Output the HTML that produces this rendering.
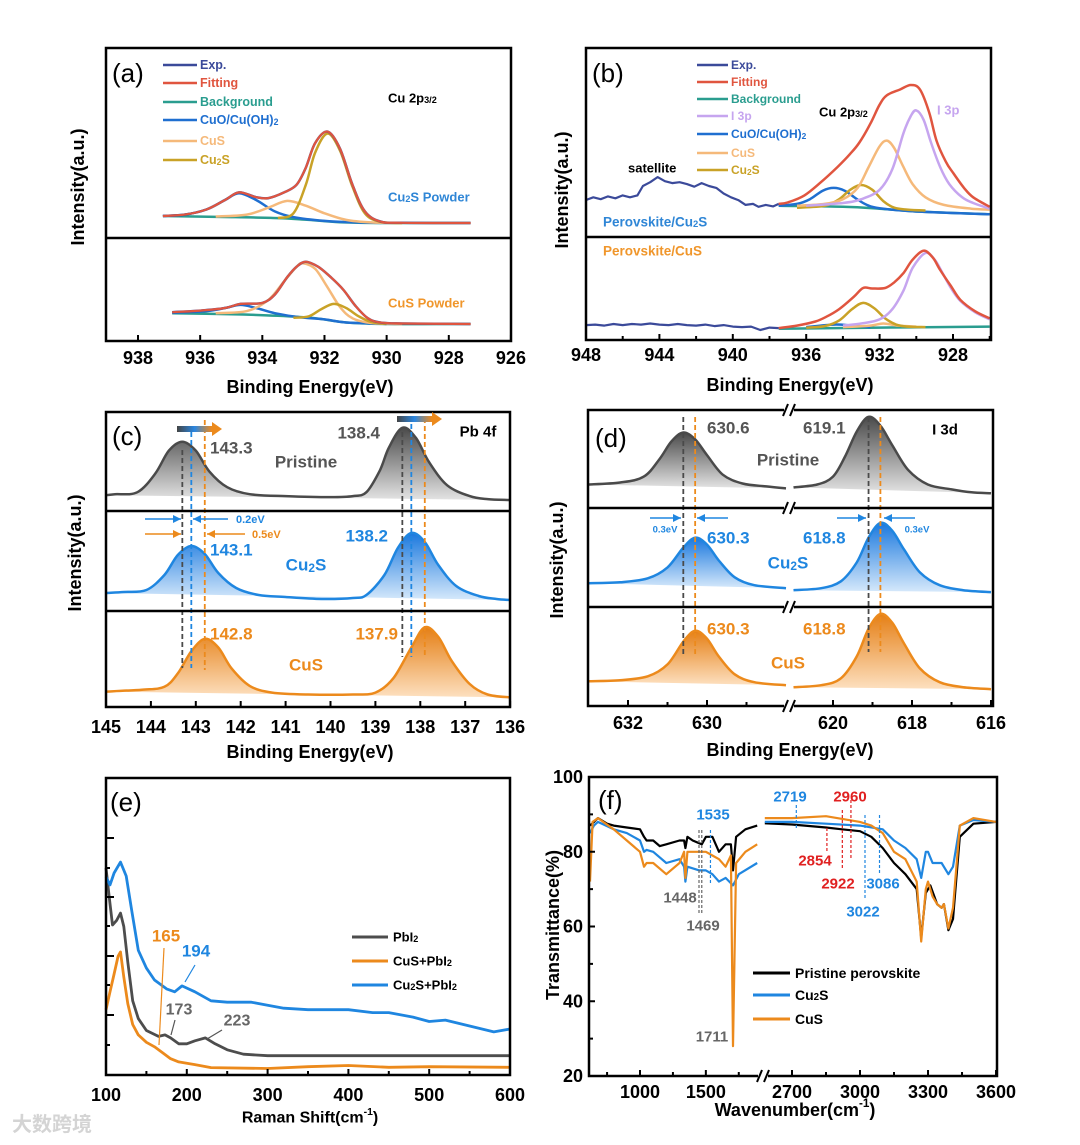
<!DOCTYPE html>
<html><head><meta charset="utf-8"><style>
html,body{margin:0;padding:0;background:#fff;}
svg{display:block;font-family:"Liberation Sans",Arial,sans-serif;font-weight:bold;}
</style></head><body>
<svg id="fig" xmlns="http://www.w3.org/2000/svg" width="1080" height="1145" viewBox="0 0 1080 1145">
<defs>
<linearGradient id="gGray" x1="0" y1="0" x2="0" y2="1"><stop offset="0" stop-color="#4a4a4a"/><stop offset="1" stop-color="#e4e4e4"/></linearGradient>
<linearGradient id="gBlue" x1="0" y1="0" x2="0" y2="1"><stop offset="0" stop-color="#1a78de"/><stop offset="1" stop-color="#d6e9fb"/></linearGradient>
<linearGradient id="gOrange" x1="0" y1="0" x2="0" y2="1"><stop offset="0" stop-color="#e57f15"/><stop offset="1" stop-color="#fde0c0"/></linearGradient>
<linearGradient id="gArrow" x1="0" y1="0" x2="1" y2="0"><stop offset="0" stop-color="#444"/><stop offset="0.5" stop-color="#2a86e0"/><stop offset="1" stop-color="#ef8a1c"/></linearGradient>
</defs>
</svg>
<script>
// ---------- Panel (a) data: [binding energy, intensity %] ----------
const aTopBg=[[937.2,11.6],[935,11],[933.5,10.5],[932.5,9.5],[931.5,8.3],[930,7.9],[927.3,7.9]];
const aTopCuO=[[937.2,11.6],[936.5,12.3],[935.8,15],[935.2,20],[934.75,23.5],[934.2,20],[933.6,14],[933,11],[932,9],[931,8.2],[929.5,7.9]];
const aTopCuS=[[935.5,11.3],[934.5,12.3],[933.8,16],[933.2,19.5],[932.6,17],[932,13],[931.3,9.5],[930.5,8.2],[929.5,7.9]];
const aTopCu2S=[[933.5,10.5],[933,13],[932.6,28],[932.3,45],[931.9,55],[931.5,46],[931.1,27],[930.7,13],[930.2,8.5],[929.5,7.9]];
const aTopFit=[[937.2,11.6],[936.5,12.3],[935.8,15],[935.2,20],[934.75,24],[934.2,21.5],[933.8,21],[933.3,24],[932.9,28],[932.6,37],[932.3,50],[931.9,56],[931.5,47],[931.1,28],[930.7,14],[930.2,8.7],[929.5,8],[927.3,7.9]];
const aBotBg=[[936.9,27],[935,26],[933.5,24.5],[932.3,22],[931.3,18],[930,16.5],[927.3,16.5]];
const aBotCuO=[[936.9,27.5],[935.8,29],[935.2,32],[934.7,35],[934.2,32],[933.6,27],[932.8,23],[932,21],[931.3,18],[930,16.5]];
const aBotCuS=[[935.5,27],[934.5,29],[933.8,40],[933.3,58],[932.9,72],[932.7,75.5],[932.3,70],[931.9,52],[931.5,33],[931.1,22],[930.5,17.5],[929.5,16.5]];
const aBotCu2S=[[933,22.5],[932.5,24],[932.1,31],[931.7,36],[931.3,32],[930.9,24],[930.5,18.5],[930,16.5]];
const aBotFit=[[936.9,28],[936,29.5],[935.2,32],[934.7,36],[934,37],[933.6,45],[933.2,62],[932.9,72],[932.6,77],[932.2,72],[931.8,62],[931.4,50],[931,34],[930.6,22],[930.2,18],[929.5,17],[927.3,16.5]];
const aTicks=[938,936,934,932,930,928,926];

// ---------- Panel (b) data ----------
const bTopExp=[[948,19.6],[947.6,21],[947.2,20],[946.8,21.5],[946.4,20.5],[946,22],[945.6,21],[945.2,22],[944.9,27],[944.5,29],[944.1,31.7],[943.7,29.5],[943.3,28.5],[942.9,29],[942.5,28],[942.1,26.6],[941.7,28.5],[941.3,27],[940.9,26],[940.5,23],[940.1,21],[939.7,19.5],[939.3,17],[938.9,17.5],[938.6,16],[938.2,17],[937.8,16.2],[937.5,17.5]];
const bTopFit=[[937.5,17.5],[937,18.3],[936.1,22],[935.2,29],[934.3,37],[933.6,44],[933.1,50],[932.5,60],[932,70],[931.6,75],[930.9,78],[930.3,80.4],[929.8,78],[929.3,66],[928.9,51],[928.4,40],[928,34],[927.4,26],[926.9,21],[926,16]];
const bTopI3p=[[936,16.5],[934,18],[933,20],[932,25],[931.3,36],[930.7,55],[930.3,64],[930,67],[929.6,62],[929.2,50],[928.7,37],[928.2,28],[927.5,21],[926.9,18],[926,15]];
const bTopCuS=[[936.5,16.5],[935,17.5],[934,20],[933.2,26],[932.6,37],[932,48],[931.6,51],[931.2,47],[930.7,37],[930.2,28],[929.5,21],[928.5,17],[927,15],[926,14.5]];
const bTopCu2S=[[936.5,15.5],[935,16.5],[934.2,20],[933.6,25],[933,27.5],[932.4,25],[931.8,19],[931.2,15.5],[930.5,14.5],[929.5,14]];
const bTopCuO=[[937.5,16.5],[936.5,17.5],[935.8,20],[935.1,24.5],[934.5,26],[933.9,24.5],[933.3,20.5],[932.7,17],[932,15.2],[930,13.5],[926,12]];
const bTopBg=[[937.5,16.5],[934,16],[932,15],[930,13.5],[926,12]];
const bBotExp=[[948,14.5],[947.5,15],[947,14],[946.5,15.5],[946,14.5],[945.5,15.5],[945,15],[944.5,16],[944,15],[943.5,14.5],[943,15.5],[942.5,14.5],[942,14],[941.5,15],[941,13.5],[940.5,14.5],[940,13],[939.5,12.5],[939,13],[938.5,9.7],[938,12],[937.5,11.6]];
const bBotFit=[[937.5,11.6],[936.5,14],[935.5,18],[934.9,22.6],[934.2,30],[933.4,42],[932.9,50.5],[932.4,50],[931.7,50.5],[931.2,56],[930.7,65],[930.2,78],[929.6,86.7],[929.1,80],[928.7,68],[928.1,52],[927.6,39],[926.8,28],[926,21]];
const bBotI3p=[[934,14],[933,16],[932,20],[931.3,30],[930.7,48],[930.2,70],[929.5,84.5],[929,78],[928.6,66],[928.1,50],[927.6,38],[926.8,27],[926,20]];
const bBotCu2S=[[936,12],[935,13.5],[934.2,19],[933.5,30],[932.9,36],[932.3,31],[931.7,21],[931.1,15],[930.5,13],[929.5,12.5]];
const bBotCuS=[[934,12.5],[932.5,14],[931.8,16],[931,14],[930,13]];
const bBotCuO=[[936,12.5],[934.5,15],[933.5,14],[932.5,12.5]];
const bBotBg=[[937.5,11],[932,12],[926,13]];
const bTicks=[948,944,940,936,932,928];

// ---------- Panel (c) data (Pb 4f) ----------
const cPristine=[[145,16],[144.8,17],[144.3,19],[143.9,38],[143.6,61],[143.3,70],[143.0,61],[142.7,40],[142.3,24],[141.8,17],[141,15],[140,14],[139.5,15],[139.2,19],[138.9,41],[138.7,64],[138.4,84],[138.1,74],[137.8,49],[137.4,26],[136.9,15],[136.5,12],[136,11]];
const cCu2S=[[145,18],[144.6,19],[144.1,21],[143.7,36],[143.4,56],[143.1,65],[142.8,57],[142.5,38],[142.1,23],[141.6,16],[141,14],[140.2,12],[139.5,13],[139.2,16],[138.8,36],[138.5,63],[138.2,78],[137.9,69],[137.6,46],[137.2,25],[136.7,15],[136.3,12],[136,11]];
const cCuS=[[145,16],[144.2,18],[143.7,21],[143.4,35],[143.1,58],[142.8,71],[142.5,62],[142.2,40],[141.8,22],[141.3,15],[140.5,13],[139.5,13],[139,15],[138.6,30],[138.2,62],[137.9,83],[137.6,73],[137.3,48],[136.9,24],[136.5,13],[136,10]];
const cTicks=[145,144,143,142,141,140,139,138,137,136];

// ---------- Panel (d) data (I 3d) ----------
const dPristineL=[[633,24],[632.2,26],[631.6,32],[631.2,50],[630.9,68],[630.6,77],[630.3,70],[630,54],[629.6,34],[629.1,25],[628.5,22],[628,20]];
const dPristineR=[[621,21],[620.4,24],[620,32],[619.7,52],[619.4,78],[619.1,93],[618.8,84],[618.5,64],[618.1,39],[617.6,24],[617,19],[616.5,16],[616,15]];
const dCu2SL=[[633,24],[632.2,25],[631.5,29],[631,40],[630.6,60],[630.3,70],[630,63],[629.7,47],[629.3,30],[628.8,22],[628,19]];
const dCu2SR=[[621,17],[620.3,19],[619.8,26],[619.4,45],[619.1,70],[618.8,85],[618.5,77],[618.2,58],[617.8,35],[617.3,22],[616.7,17],[616,15]];
const dCuSL=[[633,25],[632.2,26],[631.5,30],[631,42],[630.6,65],[630.3,76],[630,68],[629.7,50],[629.3,32],[628.8,24],[628,21]];
const dCuSR=[[621,19],[620.3,21],[619.8,28],[619.4,50],[619.1,78],[618.8,93],[618.5,84],[618.2,63],[617.8,38],[617.3,24],[616.7,19],[616,17]];
const dTicks=[632,630,620,618,616];

// ---------- Panel (e) data (Raman) ----------
const eCu2S=[[100,66.7],[105,64],[110,68],[118,71.7],[125,67],[132,55],[140,42],[150,36],[160,32],[175,29],[185,28],[194,30],[210,28],[230,25],[250,24.5],[280,24.5],[300,23.5],[320,22.5],[350,22],[400,22],[430,21],[450,21],[480,19.5],[500,18],[520,18.5],[550,16.5],[580,14.5],[600,15.5]];
const ePbI2=[[100,69.7],[104,60],[108,50.5],[113,52],[118,54.5],[122,50],[127,38],[133,25],[140,19],[150,15],[165,13],[173,13.5],[180,12.5],[190,10.5],[200,10.5],[210,11.5],[223,12.5],[235,10.5],[250,8.5],[270,7],[300,6.5],[400,6.5],[500,6.5],[600,6.5]];
const eCuS=[[100,22],[105,28],[110,34],[115,40],[118,41.4],[122,33],[127,24],[133,17],[140,13.5],[150,11],[160,9.5],[170,7.5],[180,5.5],[190,4.4],[210,3.5],[230,2.5],[300,2.2],[350,2.8],[400,3.2],[450,2.6],[500,2.8],[600,2.6]];
const eTicks=[100,200,300,400,500,600];

// ---------- Panel (f) data (FTIR) ----------
const fBlackL=[[620,87],[650,88],[680,89],[750,87.5],[800,87],[900,86.5],[1000,86],[1030,84],[1050,83],[1100,83],[1150,81.5],[1200,82],[1300,83],[1335,83],[1345,81],[1360,84],[1400,83],[1469,82],[1500,84],[1550,84],[1600,80],[1650,82],[1690,82],[1706,75],[1730,84],[1800,86],[1890,87]];
const fBlueL=[[620,85],[650,87],[680,88],[800,86],[900,85],[1000,83],[1030,80],[1050,80.5],[1100,80],[1200,77],[1300,78],[1335,76],[1345,72],[1360,76],[1450,75],[1500,75],[1550,74],[1600,72],[1650,73],[1706,71],[1750,74],[1890,77]];
const fOrangeL=[[620,72],[640,88],[680,89],[800,86],[900,83],[1000,80],[1030,76],[1050,77],[1100,77],[1200,74],[1300,77],[1335,80],[1345,73],[1360,80],[1450,80],[1500,80],[1550,79],[1600,78],[1650,76],[1690,79],[1706,28],[1730,77],[1800,80],[1890,82]];
const fBlackR=[[2580,87.6],[2700,87.3],[2850,86.5],[2920,86],[3000,85.5],[3050,84],[3100,81],[3150,77],[3200,74],[3250,70],[3270,57],[3290,69],[3310,71],[3340,66],[3360,65],[3370,66],[3390,59],[3410,62],[3440,84],[3500,87.5],[3600,88]];
const fBlueR=[[2580,88],[2700,88],[2850,87.5],[3000,87],[3100,86],[3150,83],[3200,81],[3250,78],[3270,73],[3290,80],[3300,80],[3320,77],[3360,77],[3390,74],[3410,76],[3440,87],[3500,88.5],[3600,88]];
const fOrangeR=[[2580,89],[2700,89],[2850,89.5],[3000,88],[3050,87],[3100,85],[3150,80],[3200,78],[3250,72],[3270,56],[3290,70],[3300,72],[3320,68],[3340,66],[3360,65],[3370,66],[3390,59.5],[3410,65],[3440,87],[3500,89],[3600,88]];
const fYTicks=[100,80,60,40,20];
const fXTicksL=[1000,1500];
const fXTicksR=[2700,3000,3300,3600];

// ---------- helpers ----------
const svg=document.getElementById('fig');
const NS='http://www.w3.org/2000/svg';
function mk(tag,name){const e=document.createElementNS(NS,tag);


svg.appendChild(e);return e;}
function line(x1,y1,x2,y2,col,w,name,dash){const e=mk('line',name);e.setAttribute('x1',x1);e.setAttribute('y1',y1);e.setAttribute('x2',x2);e.setAttribute('y2',y2);e.setAttribute('stroke',col);e.setAttribute('stroke-width',w);if(dash)e.setAttribute('stroke-dasharray',dash);return e;}
function rect(x,y,w,h,name,fill,stroke,sw){const e=mk('rect',name);e.setAttribute('x',x);e.setAttribute('y',y);e.setAttribute('width',w);e.setAttribute('height',h);e.setAttribute('fill',fill||'none');if(stroke){e.setAttribute('stroke',stroke);e.setAttribute('stroke-width',sw);}return e;}
function text(x,y,s,size,fill,anchor,name,rot){const e=mk('text',name);e.setAttribute('x',x);e.setAttribute('y',y);e.setAttribute('font-size',size);e.setAttribute('fill',fill||'#000');e.setAttribute('text-anchor',anchor||'start');e.setAttribute('dominant-baseline','central');if(rot)e.setAttribute('transform','rotate('+rot+' '+x+' '+y+')');e.innerHTML=s;return e;}
const SUB=(c)=>'<tspan baseline-shift="-25%" font-size="70%">'+c+'</tspan>';
const SUP=(c)=>'<tspan baseline-shift="super" font-size="65%">'+c+'</tspan>';
function smoothD(pts){let d='M'+pts[0][0].toFixed(1)+','+pts[0][1].toFixed(1);for(let i=0;i<pts.length-1;i++){const p0=pts[i-1]||pts[i],p1=pts[i],p2=pts[i+1],p3=pts[i+2]||p2;const c1=[p1[0]+(p2[0]-p0[0])/6,p1[1]+(p2[1]-p0[1])/6],c2=[p2[0]-(p3[0]-p1[0])/6,p2[1]-(p3[1]-p1[1])/6];d+='C'+c1[0].toFixed(1)+','+c1[1].toFixed(1)+' '+c2[0].toFixed(1)+','+c2[1].toFixed(1)+' '+p2[0].toFixed(1)+','+p2[1].toFixed(1);}return d;}
function linD(pts){return 'M'+pts.map(p=>p[0].toFixed(1)+','+p[1].toFixed(1)).join('L');}
function curve(data,xs,ys,col,w,name,smooth){const pts=data.map(d=>[xs(d[0]),ys(d[1])]);const e=mk('path',name);e.setAttribute('d',smooth===false?linD(pts):smoothD(pts));e.setAttribute('fill','none');e.setAttribute('stroke',col);e.setAttribute('stroke-width',w);e.setAttribute('stroke-linejoin','round');return e;}
function area(data,xs,ys,grad,name){const pts=data.map(d=>[xs(d[0]),ys(d[1])]);const e=mk('path',name);e.setAttribute('d',smoothD(pts)+'Z');e.setAttribute('fill','url(#'+grad+')');return e;}
function arrow(x1,y,x2,col,name){line(x1,y,x2,y,col,1.6,name);const dir=x2>x1?1:-1;const e=mk('path',name+'-head');e.setAttribute('d','M'+x2+','+y+'L'+(x2-dir*8)+','+(y-4)+'L'+(x2-dir*8)+','+(y+4)+'Z');e.setAttribute('fill',col);}
function breakMark(x,y,name){rect(x-5,y-5,10,10,name+'-gap','#fff');line(x-6,y+6,x-1,y-6,'#000',2,name+'-l');line(x+1,y+6,x+6,y-6,'#000',2,name+'-r');}

const C={exp:'#3b4a9a',fit:'#e0553f',bg:'#2a9d8f',cuo:'#1f6fd0',cus:'#f5b97a',cu2s:'#c9a227',i3p:'#c6a5ef',gray:'#4a4a4a',blue:'#1f86e0',orange:'#ec8a1c'};
const TS=18;

// ================= Panel (a) =================
const xA=e=>138+(938-e)*31.08, yAt=v=>238-v*1.90, yAb=v=>341-v*1.03;
curve(aTopBg,xA,yAt,C.bg,2.5,'a-top-background');
curve(aTopCuO,xA,yAt,C.cuo,2.5,'a-top-cuo');
curve(aTopCuS,xA,yAt,C.cus,2.5,'a-top-cus');
curve(aTopCu2S,xA,yAt,C.cu2s,2.5,'a-top-cu2s');
curve(aTopFit,xA,yAt,C.exp,2.5,'a-top-exp');
curve(aTopFit,xA,yAt,C.fit,2.2,'a-top-fitting');
curve(aBotBg,xA,yAb,C.bg,2.5,'a-bottom-background');
curve(aBotCuO,xA,yAb,C.cuo,2.5,'a-bottom-cuo');
curve(aBotCuS,xA,yAb,C.cus,2.5,'a-bottom-cus');
curve(aBotCu2S,xA,yAb,C.cu2s,2.5,'a-bottom-cu2s');
curve(aBotFit,xA,yAb,C.exp,2.5,'a-bottom-exp');
curve(aBotFit,xA,yAb,C.fit,2.2,'a-bottom-fitting');
rect(106,48,405,293,'a-frame','none','#000',2.5);
line(106,238,511,238,'#000',2.5,'a-divider');
aTicks.forEach(t=>{line(xA(t),341,xA(t),335,'#000',2,'a-tick');text(xA(t),358,String(t),TS,'#000','middle','a-tick-label');});
text(310,387,'Binding Energy(eV)',18,'#000','middle','a-x-title');
text(78,187,'Intensity(a.u.)',18,'#000','middle','a-y-title',-90);
text(112,73,'(a)',26,'#000','start','a-panel-label').setAttribute('font-weight','normal');
[['Exp.',C.exp],['Fitting',C.fit],['Background',C.bg],['CuO/Cu(OH)'+SUB('2'),C.cuo],['CuS',C.cus],['Cu'+SUB('2')+'S',C.cu2s]].forEach((l,i)=>{const y=[65,83,102,120,141,160][i];line(163,y,197,y,l[1],2.5,'a-legend-line');text(200,y,l[0],12.5,l[1],'start','a-legend-label');});
text(388,98,'Cu 2p'+SUB('3/2'),13,'#000','start','a-core-level-label');
text(388,197,'Cu'+SUB('2')+'S Powder',13,'#2f86d6','start','a-cu2s-powder-label');
text(388,303,'CuS Powder',13,'#f0962b','start','a-cus-powder-label');

// ================= Panel (b) =================
const xB=e=>586+(948-e)*18.35, yBt=v=>237-v*1.89, yBb=v=>340-v*1.03;
curve(bTopBg,xB,yBt,C.bg,2.5,'b-top-background');
curve(bTopCuO,xB,yBt,C.cuo,2.5,'b-top-cuo');
curve(bTopCu2S,xB,yBt,C.cu2s,2.5,'b-top-cu2s');
curve(bTopCuS,xB,yBt,C.cus,2.5,'b-top-cus');
curve(bTopI3p,xB,yBt,C.i3p,2.5,'b-top-i3p');
curve(bTopExp,xB,yBt,C.exp,2.2,'b-top-exp',false);
curve(bTopFit,xB,yBt,C.fit,2.5,'b-top-fitting');
curve(bBotBg,xB,yBb,C.bg,2.5,'b-bottom-background');
curve(bBotCuO,xB,yBb,C.cuo,2.5,'b-bottom-cuo');
curve(bBotCuS,xB,yBb,C.cus,2.5,'b-bottom-cus');
curve(bBotCu2S,xB,yBb,C.cu2s,2.5,'b-bottom-cu2s');
curve(bBotI3p,xB,yBb,C.i3p,2.5,'b-bottom-i3p');
curve(bBotExp,xB,yBb,C.exp,2.2,'b-bottom-exp',false);
curve(bBotFit,xB,yBb,C.fit,2.5,'b-bottom-fitting');
rect(586,48,405,292,'b-frame','none','#000',2.5);
line(586,237,991,237,'#000',2.5,'b-divider');
bTicks.forEach(t=>{line(xB(t),340,xB(t),334,'#000',2,'b-tick');line(xB(t-2),340,xB(t-2),336,'#000',2,'b-minor-tick');text(xB(t),355,String(t),TS,'#000','middle','b-tick-label');});
text(790,385,'Binding Energy(eV)',18,'#000','middle','b-x-title');
text(562,190,'Intensity(a.u.)',18,'#000','middle','b-y-title',-90);
text(592,73,'(b)',26,'#000','start','b-panel-label').setAttribute('font-weight','normal');
[['Exp.',C.exp],['Fitting',C.fit],['Background',C.bg],['I 3p',C.i3p],['CuO/Cu(OH)'+SUB('2'),C.cuo],['CuS',C.cus],['Cu'+SUB('2')+'S',C.cu2s]].forEach((l,i)=>{const y=[65,82,99,116,134,153,170][i];line(697,y,728,y,l[1],2.5,'b-legend-line');text(731,y,l[0],12,l[1],'start','b-legend-label');});
text(819,112,'Cu 2p'+SUB('3/2'),13,'#000','start','b-core-level-label');
text(937,110,'I 3p',13,C.i3p,'start','b-i3p-label');
text(628,168,'satellite',13,'#000','start','b-satellite-label');
text(603,222,'Perovskite/Cu'+SUB('2')+'S',13.5,'#2f86d6','start','b-cu2s-label');
text(603,251,'Perovskite/CuS',13.5,'#f0962b','start','b-cus-label');

// ================= Panel (c) =================
const xC=e=>106+(145-e)*44.9;
const ySub=(top,bot)=>v=>bot-v*(bot-top)/100;
const yC1=ySub(412,511),yC2=ySub(511,611),yC3=ySub(611,707);
area(cPristine,xC,yC1,'gGray','c-pristine-fill');curve(cPristine,xC,yC1,C.gray,2.5,'c-pristine-line');
area(cCu2S,xC,yC2,'gBlue','c-cu2s-fill');curve(cCu2S,xC,yC2,C.blue,2.5,'c-cu2s-line');
area(cCuS,xC,yC3,'gOrange','c-cus-fill');curve(cCuS,xC,yC3,C.orange,2.5,'c-cus-line');
line(xC(143.3),450,xC(143.3),668,C.gray,1.8,'c-dash-pristine-1','5,3');
line(xC(143.1),432,xC(143.1),668,C.blue,1.8,'c-dash-cu2s-1','5,3');
line(xC(142.8),420,xC(142.8),670,C.orange,1.8,'c-dash-cus-1','5,3');
line(xC(138.4),432,xC(138.4),657,C.gray,1.8,'c-dash-pristine-2','5,3');
line(xC(138.2),424,xC(138.2),657,C.blue,1.8,'c-dash-cu2s-2','5,3');
line(xC(137.9),418,xC(137.9),655,C.orange,1.8,'c-dash-cus-2','5,3');
rect(106,412,404,295,'c-frame','none','#000',2.5);
line(106,511,510,511,'#000',2.5,'c-divider-1');line(106,611,510,611,'#000',2.5,'c-divider-2');
cTicks.forEach(t=>{line(xC(t),707,xC(t),701,'#000',2,'c-tick');text(xC(t),727,String(t),TS,'#000','middle','c-tick-label');});
text(310,752,'Binding Energy(eV)',18,'#000','middle','c-x-title');
text(75,553,'Intensity(a.u.)',18,'#000','middle','c-y-title',-90);
text(112,436,'(c)',26,'#000','start','c-panel-label').setAttribute('font-weight','normal');
[[177,212,429],[397,432,419]].forEach((a,i)=>{rect(a[0],a[2]-3,a[1]-a[0],6,'c-shift-arrow-'+(i+1),'url(#gArrow)');const h=mk('path','c-shift-arrow-head');h.setAttribute('d','M'+(a[1]+10)+','+a[2]+'L'+a[1]+','+(a[2]-7)+'L'+a[1]+','+(a[2]+7)+'Z');h.setAttribute('fill',C.orange);});
text(210,448,'143.3',17,'#555','start','c-pristine-peak-1');
text(380,433,'138.4',17,'#555','end','c-pristine-peak-2');
text(306,462,'Pristine',17,'#555','middle','c-pristine-label');
text(478,432,'Pb 4f',15,'#000','middle','c-core-level-label');
arrow(145,519,181,C.blue,'c-arrow-blue-r');arrow(228,519,193,C.blue,'c-arrow-blue-l');
arrow(145,534,181,C.orange,'c-arrow-orange-r');arrow(245,534,207,C.orange,'c-arrow-orange-l');
text(236,520,'0.2eV',11,C.blue,'start','c-shift-02');
text(252,535,'0.5eV',11,C.orange,'start','c-shift-05');
text(210,550,'143.1',17,C.blue,'start','c-cu2s-peak-1');
text(388,536,'138.2',17,C.blue,'end','c-cu2s-peak-2');
text(306,565,'Cu'+SUB('2')+'S',17,C.blue,'middle','c-cu2s-label');
text(210,634,'142.8',17,C.orange,'start','c-cus-peak-1');
text(398,634,'137.9',17,C.orange,'end','c-cus-peak-2');
text(306,665,'CuS',17,C.orange,'middle','c-cus-label');

// ================= Panel (d) =================
const xD=e=>e>=625?628+(632-e)*39.5:833+(620-e)*39.5;
const yD1=ySub(410,508),yD2=ySub(508,607),yD3=ySub(607,706);
[[dPristineL,dPristineR,yD1,'gGray',C.gray,'pristine'],[dCu2SL,dCu2SR,yD2,'gBlue',C.blue,'cu2s'],[dCuSL,dCuSR,yD3,'gOrange',C.orange,'cus']].forEach(s=>{area(s[0],xD,s[2],s[3],'d-'+s[5]+'-fill-left');area(s[1],xD,s[2],s[3],'d-'+s[5]+'-fill-right');curve(s[0],xD,s[2],s[4],2.5,'d-'+s[5]+'-line-left');curve(s[1],xD,s[2],s[4],2.5,'d-'+s[5]+'-line-right');});
line(xD(630.6),417,xD(630.6),657,C.gray,1.8,'d-dash-pristine-1','5,3');
line(xD(630.3),417,xD(630.3),657,C.orange,1.8,'d-dash-shift-1','5,3');
line(xD(619.1),417,xD(619.1),652,C.gray,1.8,'d-dash-pristine-2','5,3');
line(xD(618.8),417,xD(618.8),652,C.orange,1.8,'d-dash-shift-2','5,3');
rect(588,410,405,296,'d-frame','none','#000',2.5);
line(588,508,993,508,'#000',2.5,'d-divider-1');line(588,607,993,607,'#000',2.5,'d-divider-2');
[410,508,607,706].forEach(y=>breakMark(789,y,'d-axis-break'));
dTicks.forEach(t=>{line(xD(t),706,xD(t),700,'#000',2,'d-tick');text(xD(t),723,String(t),TS,'#000','middle','d-tick-label');});
[631,629,619,617].forEach(t=>line(xD(t),706,xD(t),702,'#000',2,'d-minor-tick'));
text(790,750,'Binding Energy(eV)',18,'#000','middle','d-x-title');
text(557,560,'Intensity(a.u.)',18,'#000','middle','d-y-title',-90);
text(595,438,'(d)',26,'#000','start','d-panel-label').setAttribute('font-weight','normal');
text(707,428,'630.6',17,'#555','start','d-pristine-peak-1');
text(803,428,'619.1',17,'#555','start','d-pristine-peak-2');
text(945,430,'I 3d',15,'#000','middle','d-core-level-label');
text(788,460,'Pristine',17,'#555','middle','d-pristine-label');
arrow(650,518,681,C.blue,'d-arrow-r1');arrow(728,518,697,C.blue,'d-arrow-l1');
arrow(837,518,866,C.blue,'d-arrow-r2');arrow(915,518,884,C.blue,'d-arrow-l2');
text(665,530,'0.3eV',9.5,C.blue,'middle','d-shift-label-1');
text(917,530,'0.3eV',9.5,C.blue,'middle','d-shift-label-2');
text(707,538,'630.3',17,C.blue,'start','d-cu2s-peak-1');
text(803,538,'618.8',17,C.blue,'start','d-cu2s-peak-2');
text(788,563,'Cu'+SUB('2')+'S',17,C.blue,'middle','d-cu2s-label');
text(707,629,'630.3',17,C.orange,'start','d-cus-peak-1');
text(803,629,'618.8',17,C.orange,'start','d-cus-peak-2');
text(788,663,'CuS',17,C.orange,'middle','d-cus-label');

// ================= Panel (e) =================
const xE=w=>106+(w-100)*0.808, yE=v=>1075-v*2.97;
curve(eCuS,xE,yE,C.orange,2.8,'e-cus-pbi2-line',false);
curve(ePbI2,xE,yE,'#4d4d4d',2.8,'e-pbi2-line',false);
curve(eCu2S,xE,yE,C.blue,2.8,'e-cu2s-pbi2-line',false);
rect(106,778,404,297,'e-frame','none','#000',2.5);
eTicks.forEach(t=>{line(xE(t),1075,xE(t),1069,'#000',2,'e-tick');if(t<600)line(xE(t+50),1075,xE(t+50),1071,'#000',2,'e-minor-tick');text(xE(t),1095,String(t),TS,'#000','middle','e-tick-label');});
[838,868,897,926,956,985,1015,1045].forEach((y,i)=>line(106,y,i%2?110:114,y,'#000',2,'e-y-tick'));
text(310,1118,'Raman Shift(cm'+SUP('-1')+')',16,'#000','middle','e-x-title');
text(110,802,'(e)',26,'#000','start','e-panel-label').setAttribute('font-weight','normal');
[['PbI'+SUB('2'),'#4d4d4d'],['CuS+PbI'+SUB('2'),C.orange],['Cu'+SUB('2')+'S+PbI'+SUB('2'),C.blue]].forEach((l,i)=>{const y=937+i*24;line(352,y,388,y,l[1],3,'e-legend-line');text(393,y,l[0],13,'#000','start','e-legend-label');});
text(166,936,'165',17,C.orange,'middle','e-peak-165');line(164,948,159,1045,C.orange,1.2,'e-peak-165-leader');
text(196,951,'194',17,C.blue,'middle','e-peak-194');
line(195,965,185,982,C.blue,1.2,'e-peak-194-leader');
text(179,1010,'173',16,'#666','middle','e-peak-173');line(175,1020,171,1035,'#555',1.2,'e-peak-173-leader');
text(237,1021,'223',16,'#666','middle','e-peak-223');line(222,1030,207,1039,'#555',1.2,'e-peak-223-leader');
text(12,1125,'大数跨境',20,'#d4d4d4','start','watermark').setAttribute('font-family','"Liberation Sans","Noto Sans CJK SC",sans-serif');

// ================= Panel (f) =================
const xF=w=>w<2200?640+(w-1000)*0.1317:792+(w-2700)*0.2267, yF=t=>777+(100-t)*3.7375;
curve(fBlueL,xF,yF,C.blue,2.2,'f-cu2s-line-left',false);
curve(fBlackL,xF,yF,'#000',2.2,'f-pristine-line-left',false);
curve(fOrangeL,xF,yF,C.orange,2.2,'f-cus-line-left',false);
curve(fBlackR,xF,yF,'#000',2.2,'f-pristine-line-right',false);
curve(fBlueR,xF,yF,C.blue,2.2,'f-cu2s-line-right',false);
curve(fOrangeR,xF,yF,C.orange,2.2,'f-cus-line-right',false);
rect(589,777,408,299,'f-frame','none','#000',2.5);
breakMark(763,1076,'f-axis-break');
fYTicks.forEach(t=>{line(589,yF(t),595,yF(t),'#000',2,'f-y-tick');text(583,yF(t),String(t),TS,'#000','end','f-y-tick-label');});
[90,70,50,30].forEach(t=>line(589,yF(t),593,yF(t),'#000',2,'f-y-minor-tick'));
fXTicksL.concat(fXTicksR).forEach(t=>{line(xF(t),1076,xF(t),1070,'#000',2,'f-x-tick');text(xF(t),1092,String(t),TS,'#000','middle','f-x-tick-label');});
[750,1250,1750,2850,3150,3450].forEach(t=>line(xF(t),1076,xF(t),1072,'#000',2,'f-x-minor-tick'));
text(795,1110,'Wavenumber(cm'+SUP('-1')+')',18,'#000','middle','f-x-title');
text(553,925,'Transmittance(%)',18,'#000','middle','f-y-title',-90);
text(598,800,'(f)',26,'#000','start','f-panel-label').setAttribute('font-weight','normal');
[['Pristine perovskite','#000'],['Cu'+SUB('2')+'S',C.blue],['CuS',C.orange]].forEach((l,i)=>{const y=[973,995,1019][i];line(753,y,790,y,l[1],3,'f-legend-line');text(795,y,l[0],14,'#000','start','f-legend-label');});
const fAnn=[['1535',1535,C.blue,713,815,830,885],['1448',1448,'#666',680,898,830,915],['1469',1469,'#666',703,926,830,915],['1711',1711,'#666',712,1037,null,null],['2719',2719,C.blue,790,797,805,830],['2960',2960,'#e02020',850,797,800,860],['2854',2854,'#e02020',815,861,828,852],['2922',2922,'#e02020',838,884,810,868],['3086',3086,C.blue,883,884,815,873],['3022',3022,C.blue,863,912,815,898]];
fAnn.forEach(a=>{if(a[5]!==null)line(xF(a[1]),a[5],xF(a[1]),a[6],a[2],1.2,'f-peak-'+a[0]+'-dash','3,2');text(a[3],a[4],a[0],15,a[2],'middle','f-peak-'+a[0]+'-label');});
</script>
</body></html>
